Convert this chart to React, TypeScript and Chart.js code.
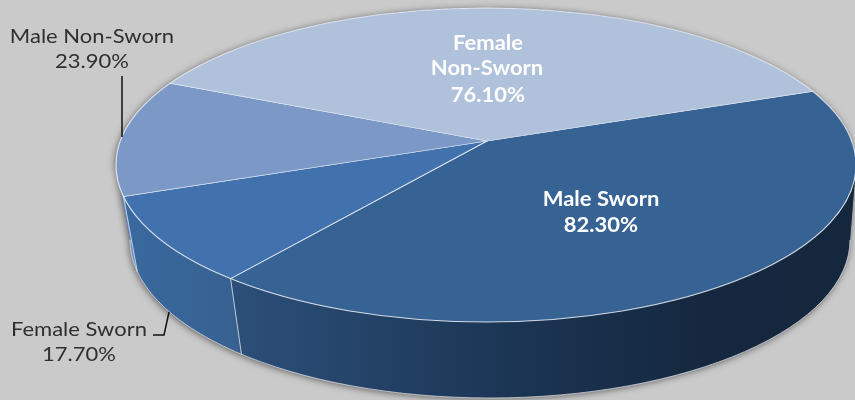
import React, { useEffect, useRef } from "react";
import { Chart, registerables } from "chart.js";

Chart.register(...registerables);

const categories = ["Male Sworn", "Female Sworn", "Male Non-Sworn", "Female Non-Sworn"];
const seriesValues = [82.3, 17.7, 23.9, 76.1];
const valueLabels = ["82.30%", "17.70%", "23.90%", "76.10%"];

const W = 855;
const H = 400;
const BG = "#cacaca";
const sliceColors = ["#376394", "#4172ad", "#7b98c6", "#b0c1db"];
const TOP = { x: 486, y: 165, rx: 370, ry: 157 };
const BOT = { x: 490, y: 240, rx: 360, ry: 158 };
const APEX = { x: 487, y: 141 };
const SCREEN_R = 460;
const K = TOP.ry / TOP.rx;

const FONT = "Lato, 'Open Sans', sans-serif";
const TEXT_STRETCH = 1.1;

function rayHit(angle: number) {
  const dx = Math.cos(angle);
  const dy = Math.sin(angle) * K;
  const ox = (APEX.x - TOP.x) / TOP.rx;
  const oy = (APEX.y - TOP.y) / TOP.ry;
  const ux = dx / TOP.rx;
  const uy = dy / TOP.ry;
  const a = ux * ux + uy * uy;
  const b = 2 * (ox * ux + oy * uy);
  const c = ox * ox + oy * oy - 1;
  const s = (-b + Math.sqrt(b * b - 4 * a * c)) / (2 * a);
  const cx = ox + ux * s;
  const cy = oy + uy * s;
  return {
    top: { x: TOP.x + cx * TOP.rx, y: TOP.y + cy * TOP.ry },
    bot: { x: BOT.x + cx * BOT.rx, y: BOT.y + cy * BOT.ry },
  };
}

function hullPath(ctx: CanvasRenderingContext2D) {
  ctx.beginPath();
  ctx.ellipse(BOT.x, BOT.y, BOT.rx, BOT.ry, 0, 0, Math.PI);
  ctx.lineTo(TOP.x - TOP.rx, TOP.y);
  ctx.ellipse(TOP.x, TOP.y, TOP.rx, TOP.ry, 0, Math.PI, Math.PI * 2);
  ctx.closePath();
}

function wallPiece(
  ctx: CanvasRenderingContext2D,
  a: { top: any; bot: any } | null,
  b: { top: any; bot: any } | null,
  stops: [number, string][],
  x0: number,
  x1: number
) {
  ctx.save();
  ctx.beginPath();
  const edge = (h: { top: any; bot: any }) => {
    const m = (h.bot.x - h.top.x) / (h.bot.y - h.top.y);
    return [
      { x: h.top.x - m * h.top.y, y: 0 },
      { x: h.top.x + m * (H - h.top.y), y: H },
    ];
  };
  const left = a ? edge(a) : [{ x: -10, y: 0 }, { x: -10, y: H }];
  const right = b ? edge(b) : [{ x: W + 10, y: 0 }, { x: W + 10, y: H }];
  ctx.moveTo(left[0].x, left[0].y);
  ctx.lineTo(right[0].x, right[0].y);
  ctx.lineTo(right[1].x, right[1].y);
  ctx.lineTo(left[1].x, left[1].y);
  ctx.closePath();
  ctx.clip();
  const g = ctx.createLinearGradient(x0, 0, x1, 0);
  stops.forEach(([p, c]) => g.addColorStop(p, c));
  ctx.fillStyle = g;
  hullPath(ctx);
  ctx.fill();
  ctx.restore();
}

function stretchedText(ctx: CanvasRenderingContext2D, text: string, x: number, y: number) {
  ctx.save();
  ctx.translate(x, y);
  ctx.scale(TEXT_STRETCH, 1);
  ctx.fillText(text, 0, 0);
  ctx.restore();
}

const pie3d = {
  id: "pie3d",
  beforeDatasetsDraw(chart: any) {
    const { ctx } = chart;
    const arcs = chart.getDatasetMeta(0).data;
    const split = rayHit(arcs[0].endAngle);
    const sliver = rayHit(arcs[1].endAngle);

    ctx.save();
    ctx.shadowColor = "rgba(0,0,0,0.55)";
    ctx.shadowBlur = 7;
    ctx.shadowOffsetX = -1;
    ctx.shadowOffsetY = 1;
    ctx.fillStyle = "#2c4f78";
    hullPath(ctx);
    ctx.fill();
    ctx.restore();

    wallPiece(ctx, null, sliver, [[0, "#6c8cbd"], [1, "#6c8cbd"]], 116, 135);
    wallPiece(ctx, sliver, split, [[0, "#39699f"], [1, "#37608f"]], 125, 240);
    wallPiece(ctx, split, null, [[0, "#2c4f78"], [0.45, "#1b3554"], [0.75, "#15283f"], [1, "#14273d"]], 235, 855);

    ctx.save();
    ctx.strokeStyle = "rgba(225,232,242,0.8)";
    ctx.lineWidth = 1;
    [split, sliver].forEach((h) => {
      ctx.beginPath();
      ctx.moveTo(h.top.x, h.top.y);
      ctx.lineTo(h.bot.x, h.bot.y);
      ctx.stroke();
    });
    ctx.strokeStyle = "rgba(235,235,235,0.7)";
    ctx.beginPath();
    ctx.ellipse(BOT.x, BOT.y, BOT.rx, BOT.ry, 0, 0, Math.PI);
    ctx.stroke();
    ctx.restore();
  },
  beforeDatasetDraw(chart: any) {
    const { ctx } = chart;
    const el = chart.getDatasetMeta(0).data[0];
    const R = el.outerRadius;
    ctx.save();
    ctx.beginPath();
    ctx.ellipse(TOP.x, TOP.y, TOP.rx, TOP.ry, 0, 0, Math.PI * 2);
    ctx.clip();
    ctx.translate(APEX.x, APEX.y);
    ctx.scale(SCREEN_R / R, (SCREEN_R * K) / R);
    ctx.translate(-el.x, -el.y);
  },
  afterDatasetDraw(chart: any) {
    const { ctx } = chart;
    ctx.restore();
    ctx.save();
    ctx.strokeStyle = "rgba(240,243,248,0.85)";
    ctx.lineWidth = 1.2;
    ctx.beginPath();
    ctx.ellipse(TOP.x, TOP.y, TOP.rx, TOP.ry, 0, 0, Math.PI * 2);
    ctx.stroke();
    ctx.restore();
  },
  afterDraw(chart: any) {
    const { ctx } = chart;
    ctx.save();
    ctx.textAlign = "center";
    ctx.textBaseline = "middle";

    ctx.fillStyle = "#ffffff";
    ctx.font = `bold 20px ${FONT}`;
    stretchedText(ctx, "Female", 488, 44);
    stretchedText(ctx, "Non-Sworn", 487, 69);
    stretchedText(ctx, valueLabels[3], 488, 96);
    stretchedText(ctx, categories[0], 601, 200);
    stretchedText(ctx, valueLabels[0], 601, 226);

    ctx.fillStyle = "#2f2f2f";
    ctx.font = `20px ${FONT}`;
    stretchedText(ctx, categories[2], 92, 37);
    stretchedText(ctx, valueLabels[2], 92, 62);
    stretchedText(ctx, categories[1], 79, 330);
    stretchedText(ctx, valueLabels[1], 79, 355);

    ctx.strokeStyle = "#111111";
    ctx.lineWidth = 1.5;
    ctx.beginPath();
    ctx.moveTo(122, 76);
    ctx.lineTo(122, 137);
    ctx.moveTo(153, 335);
    ctx.lineTo(164, 335);
    ctx.lineTo(169, 312);
    ctx.stroke();
    ctx.restore();
  },
};

export default function App() {
  const ref = useRef<HTMLCanvasElement>(null);
  useEffect(() => {
    const chart = new Chart(ref.current as HTMLCanvasElement, {
      type: "pie",
      data: {
        labels: categories,
        datasets: [
          {
            data: seriesValues,
            backgroundColor: sliceColors,
            borderColor: "rgba(240,243,248,0.85)",
            borderWidth: 0.7,
          },
        ],
      },
      options: {
        responsive: false,
        animation: false,
        rotation: 70.2,
        layout: { padding: 0 },
        plugins: { legend: { display: false }, tooltip: { enabled: false } },
      },
      plugins: [pie3d],
    } as any);
    return () => chart.destroy();
  }, []);
  return (
    <div style={{ position: "absolute", left: 0, top: 0, width: W, height: H, background: BG, overflow: "hidden" }}>
      <canvas ref={ref} width={W} height={H} style={{ display: "block", width: W, height: H }} />
    </div>
  );
}
